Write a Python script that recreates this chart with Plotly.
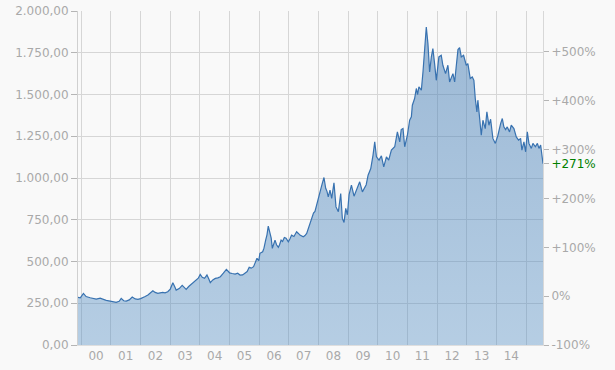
import plotly.graph_objects as go

dates = [
    "1999-11-22", "1999-12-20", "2000-01-28", "2000-03-01", "2000-04-20", "2000-05-27",
    "2000-07-03", "2000-08-21", "2000-09-27", "2000-11-03", "2000-12-22", "2001-01-28",
    "2001-03-06", "2001-04-12", "2001-05-07", "2001-06-07", "2001-07-08", "2001-08-14",
    "2001-09-20", "2001-10-27", "2001-11-29", "2002-01-01", "2002-01-29", "2002-02-26",
    "2002-04-01", "2002-04-29", "2002-06-01", "2002-06-29", "2002-08-01", "2002-08-29",
    "2002-10-01", "2002-10-29", "2002-12-01", "2003-01-01", "2003-02-02", "2003-02-24",
    "2003-03-15", "2003-04-21", "2003-05-28", "2003-06-22", "2003-07-16", "2003-08-16",
    "2003-09-16", "2003-10-17", "2003-11-17", "2003-12-12", "2004-01-05", "2004-01-30",
    "2004-02-27", "2004-03-28", "2004-04-20", "2004-05-08", "2004-06-08", "2004-07-09",
    "2004-08-09", "2004-09-09", "2004-10-16", "2004-11-22", "2004-12-17", "2005-01-01",
    "2005-02-01", "2005-03-10", "2005-04-10", "2005-05-10", "2005-06-10", "2005-07-11",
    "2005-08-05", "2005-08-30", "2005-09-24", "2005-10-23", "2005-11-13", "2005-12-04",
    "2005-12-26", "2006-01-09", "2006-02-12", "2006-02-28", "2006-03-21", "2006-04-06",
    "2006-04-22", "2006-05-13", "2006-05-28", "2006-06-11", "2006-06-26", "2006-07-14",
    "2006-08-02", "2006-08-24", "2006-09-08", "2006-09-27", "2006-10-15", "2006-11-06",
    "2006-11-27", "2006-12-25", "2007-01-13", "2007-02-03", "2007-03-04", "2007-04-06",
    "2007-04-28", "2007-05-17", "2007-06-27", "2007-07-18", "2007-08-08", "2007-08-30",
    "2007-09-17", "2007-10-16", "2007-10-31", "2007-11-18", "2007-12-09", "2007-12-29",
    "2008-01-18", "2008-02-12", "2008-03-08", "2008-03-29", "2008-04-14", "2008-04-30",
    "2008-05-21", "2008-06-11", "2008-07-09", "2008-08-03", "2008-09-01", "2008-09-30",
    "2008-10-20", "2008-11-10", "2008-12-01", "2008-12-21", "2009-01-11", "2009-02-09",
    "2009-03-13", "2009-04-11", "2009-05-04", "2009-05-22", "2009-06-24", "2009-07-23",
    "2009-08-10", "2009-09-02", "2009-10-05", "2009-11-02", "2009-11-23", "2009-12-14",
    "2010-01-15", "2010-02-13", "2010-03-14", "2010-04-16", "2010-05-14", "2010-06-16",
    "2010-07-27", "2010-08-29", "2010-09-27", "2010-10-15", "2010-11-06", "2010-11-27",
    "2010-12-30", "2011-01-27", "2011-02-17", "2011-03-01", "2011-03-29", "2011-04-19",
    "2011-05-05", "2011-05-21", "2011-06-20", "2011-07-10", "2011-07-31", "2011-08-20",
    "2011-09-09", "2011-09-30", "2011-10-21", "2011-11-09", "2011-11-30", "2011-12-21",
    "2012-01-22", "2012-02-20", "2012-03-11", "2012-04-13", "2012-05-12", "2012-06-02",
    "2012-07-13", "2012-08-03", "2012-08-24", "2012-09-13", "2012-10-03", "2012-10-24",
    "2012-11-21", "2012-12-24", "2013-01-13", "2013-02-11", "2013-03-08", "2013-03-28",
    "2013-04-14", "2013-05-04", "2013-05-16", "2013-06-06", "2013-06-27", "2013-07-17",
    "2013-08-15", "2013-09-04", "2013-09-29", "2013-10-20", "2013-11-17", "2013-12-17",
    "2014-01-18", "2014-02-20", "2014-03-13", "2014-04-01", "2014-04-22", "2014-05-13",
    "2014-06-10", "2014-07-01", "2014-08-03", "2014-09-01", "2014-09-29", "2014-10-24",
    "2014-11-09", "2014-12-04", "2014-12-25", "2015-01-15", "2015-02-04", "2015-03-05",
    "2015-03-25", "2015-04-24", "2015-05-19", "2015-06-07", "2015-06-28", "2015-07-19",
    "2015-07-27",
]

prices = [
    285, 282, 309, 290, 283, 278,
    275, 280, 272, 267, 263, 260,
    255, 262, 279, 265, 263, 270,
    287, 276, 273, 278, 283, 290,
    299, 310, 325, 315, 309, 312,
    315, 312, 319, 335, 373, 350,
    329, 338, 357, 345, 333, 350,
    363, 375, 389, 400, 423, 405,
    399, 419, 395, 373, 390, 399,
    402, 409, 430, 453, 440, 432,
    428, 425, 430, 419, 420, 429,
    440, 465, 460, 469, 490, 519,
    505, 549, 558, 580, 628, 660,
    712, 658, 640, 579, 600, 628,
    600, 585, 600, 628, 620, 644,
    640, 618, 635, 658, 650, 678,
    668, 658, 648, 655, 668, 700,
    728, 778, 790, 800, 840, 890,
    927, 960, 1003, 938, 920, 887,
    927, 878, 971, 827, 798, 907,
    758, 734, 818, 780, 900, 957,
    891, 927, 950, 977, 917, 947,
    960, 1017, 1057, 1137, 1216, 1127,
    1107, 1133, 1067, 1127, 1107, 1167,
    1187, 1276, 1216, 1290, 1296, 1187,
    1256, 1346, 1366, 1436, 1476, 1536,
    1500, 1546, 1526, 1635, 1805, 1904,
    1805, 1635, 1725, 1775, 1685, 1585,
    1725, 1735, 1675, 1625, 1675, 1575,
    1625, 1575, 1675, 1769, 1781, 1725,
    1735, 1675, 1685, 1596, 1605, 1585,
    1476, 1396, 1466, 1356, 1256, 1346,
    1296, 1396, 1316, 1352, 1237, 1207,
    1256, 1326, 1356, 1306, 1290, 1306,
    1276, 1316, 1296, 1246, 1227, 1237,
    1167, 1216, 1157, 1276, 1207, 1177,
    1207, 1187, 1207, 1177, 1197, 1117,
    1085,
]

base_value = 292.5
left_ticks = [0, 250, 500, 750, 1000, 1250, 1500, 1750, 2000]
pct_ticks = [-100, 0, 100, 200, 300, 400, 500]
pct_labels = ["-100%", "0%", "+100%", "+200%", "+300%", "+400%", "+500%"]
year_labels = ["00", "01", "02", "03", "04", "05", "06", "07", "08", "09", "10", "11", "12", "13", "14"]
year_mids = [f"20{y}-07-02" for y in year_labels]
year_starts = [f"{2000 + i}-01-01" for i in range(16)]

y_max = 2000
last_pct = (prices[-1] / base_value - 1) * 100
pct_range = [(0 / base_value - 1) * 100, (y_max / base_value - 1) * 100]

bg = "#f9f9f9"
grey = "#a9a9a9"
font = dict(family="DejaVu Sans", size=12, color=grey)

fig = go.Figure()
fig.add_trace(go.Scatter(
    x=dates, y=prices, mode="lines", fill="tozeroy",
    line=dict(color="#3872b0", width=1.2),
    fillgradient=dict(type="vertical", start=0, stop=1900,
                      colorscale=[[0, "rgba(80,140,195,0.40)"], [1, "rgba(70,125,180,0.52)"]]),
    hoverinfo="skip", showlegend=False,
))
# invisible trace for the percentage axis
fig.add_trace(go.Scatter(x=[dates[0]], y=[0], yaxis="y2", mode="markers",
                         marker=dict(opacity=0), hoverinfo="skip", showlegend=False))

fig.update_layout(
    width=615, height=370,
    margin=dict(l=78, r=72, t=11, b=25),
    paper_bgcolor=bg, plot_bgcolor=bg,
    separators=",.",
    font=font,
    xaxis=dict(
        type="date", range=[dates[0], dates[-1]], automargin=False,
        tickmode="array", tickvals=year_mids, ticktext=year_labels,
        showgrid=False, ticks="", zeroline=False,
        showline=True, linecolor="#dedede", linewidth=1,
        tickfont=font,
        minor=dict(tickmode="array", tickvals=year_starts, showgrid=True,
                   gridcolor="#d6d6d6", gridwidth=1, ticks=""),
    ),
    yaxis=dict(
        range=[0, y_max], tickmode="array", tickvals=left_ticks, automargin=False,
        tickformat=",.2f", showgrid=True, gridcolor="#d6d6d6", gridwidth=1,
        zeroline=False, showline=True, linecolor="#d0d0d0", linewidth=1,
        ticks="outside", ticklen=6, tickcolor="#b5b5b5", tickfont=font,
    ),
    yaxis2=dict(
        overlaying="y", side="right", range=pct_range, automargin=False,
        tickmode="array",
        tickvals=pct_ticks + [last_pct],
        ticktext=pct_labels + [f"<span style='color:#008000'>+{last_pct:.0f}%</span>"],
        showgrid=False, zeroline=False, showline=True, linecolor="#d8d8d8", linewidth=1,
        ticks="outside", ticklen=5, tickcolor="#b5b5b5", tickfont=font,
    ),
)

fig.write_html(
    "out.html",
    config={"displayModeBar": False},
    post_script=f"document.body.style.margin='0';document.body.style.background='{bg}';",
)
